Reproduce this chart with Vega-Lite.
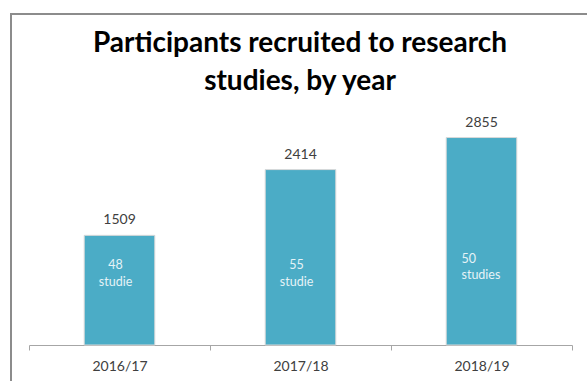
{
  "$schema": "https://vega.github.io/schema/vega-lite/v6.json",
  "width": 578,
  "height": 369,
  "autosize": {"type": "none"},
  "padding": {"left": 11, "top": 14, "right": -2, "bottom": -2},
  "background": "white",
  "config": {
    "view": {"stroke": "#8c8c8c", "strokeWidth": 2},
    "font": "Lato"
  },
  "title": {
    "text": ["Participants recruited to research", "studies, by year"],
    "font": "Lato",
    "fontSize": 28,
    "fontWeight": "bold",
    "color": "#000000",
    "lineHeight": 38,
    "anchor": "middle",
    "frame": "group",
    "baseline": "top",
    "offset": -82
  },
  "data": {
    "values": [
      {"year": "2016/17", "participants": 1509, "studies": "48\nstudie"},
      {"year": "2017/18", "participants": 2414, "studies": "55\nstudie"},
      {"year": "2018/19", "participants": 2855, "studies": "50\nstudies"}
    ]
  },
  "encoding": {
    "x": {
      "field": "year",
      "type": "nominal",
      "sort": null,
      "scale": {"range": [18, 561], "paddingInner": 0, "paddingOuter": 0},
      "axis": {
        "title": null,
        "orient": "bottom",
        "offset": -38,
        "domainColor": "#a6a6a6",
        "tickColor": "#a6a6a6",
        "tickSize": 5,
        "tickBand": "extent",
        "labelFont": "Lato",
        "labelFontSize": 14,
        "labelColor": "#404040",
        "labelPadding": 9,
        "labelAngle": 0,
        "grid": false
      }
    }
  },
  "layer": [
    {
      "mark": {"type": "bar", "color": "#4BACC6", "stroke": "#d9d9d9", "strokeWidth": 1, "width": {"band": 0.39}},
      "encoding": {
        "y": {
          "field": "participants",
          "type": "quantitative",
          "scale": {"domain": [0, 3000], "range": [331, 113], "nice": false, "zero": true},
          "axis": null
        }
      }
    },
    {
      "mark": {"type": "text", "baseline": "alphabetic", "dy": -11, "fontSize": 14, "color": "#404040", "font": "Lato"},
      "encoding": {
        "y": {"field": "participants", "type": "quantitative"},
        "text": {"field": "participants", "type": "quantitative", "format": "d"}
      }
    },
    {
      "transform": [{"filter": "datum.year != '2018/19'"}],
      "mark": {"type": "text", "align": "center", "baseline": "alphabetic", "dx": -4, "lineBreak": "\n", "lineHeight": 16.5, "fontSize": 12.5, "color": "#e6f3f7", "font": "Lato"},
      "encoding": {
        "y": {"datum": 1040, "type": "quantitative"},
        "text": {"field": "studies", "type": "nominal"}
      }
    },
    {
      "transform": [{"filter": "datum.year == '2018/19'"}],
      "mark": {"type": "text", "align": "left", "baseline": "alphabetic", "dx": -20, "lineBreak": "\n", "lineHeight": 16.5, "fontSize": 12.5, "color": "#e6f3f7", "font": "Lato"},
      "encoding": {
        "y": {"datum": 1130, "type": "quantitative"},
        "text": {"field": "studies", "type": "nominal"}
      }
    }
  ]
}
